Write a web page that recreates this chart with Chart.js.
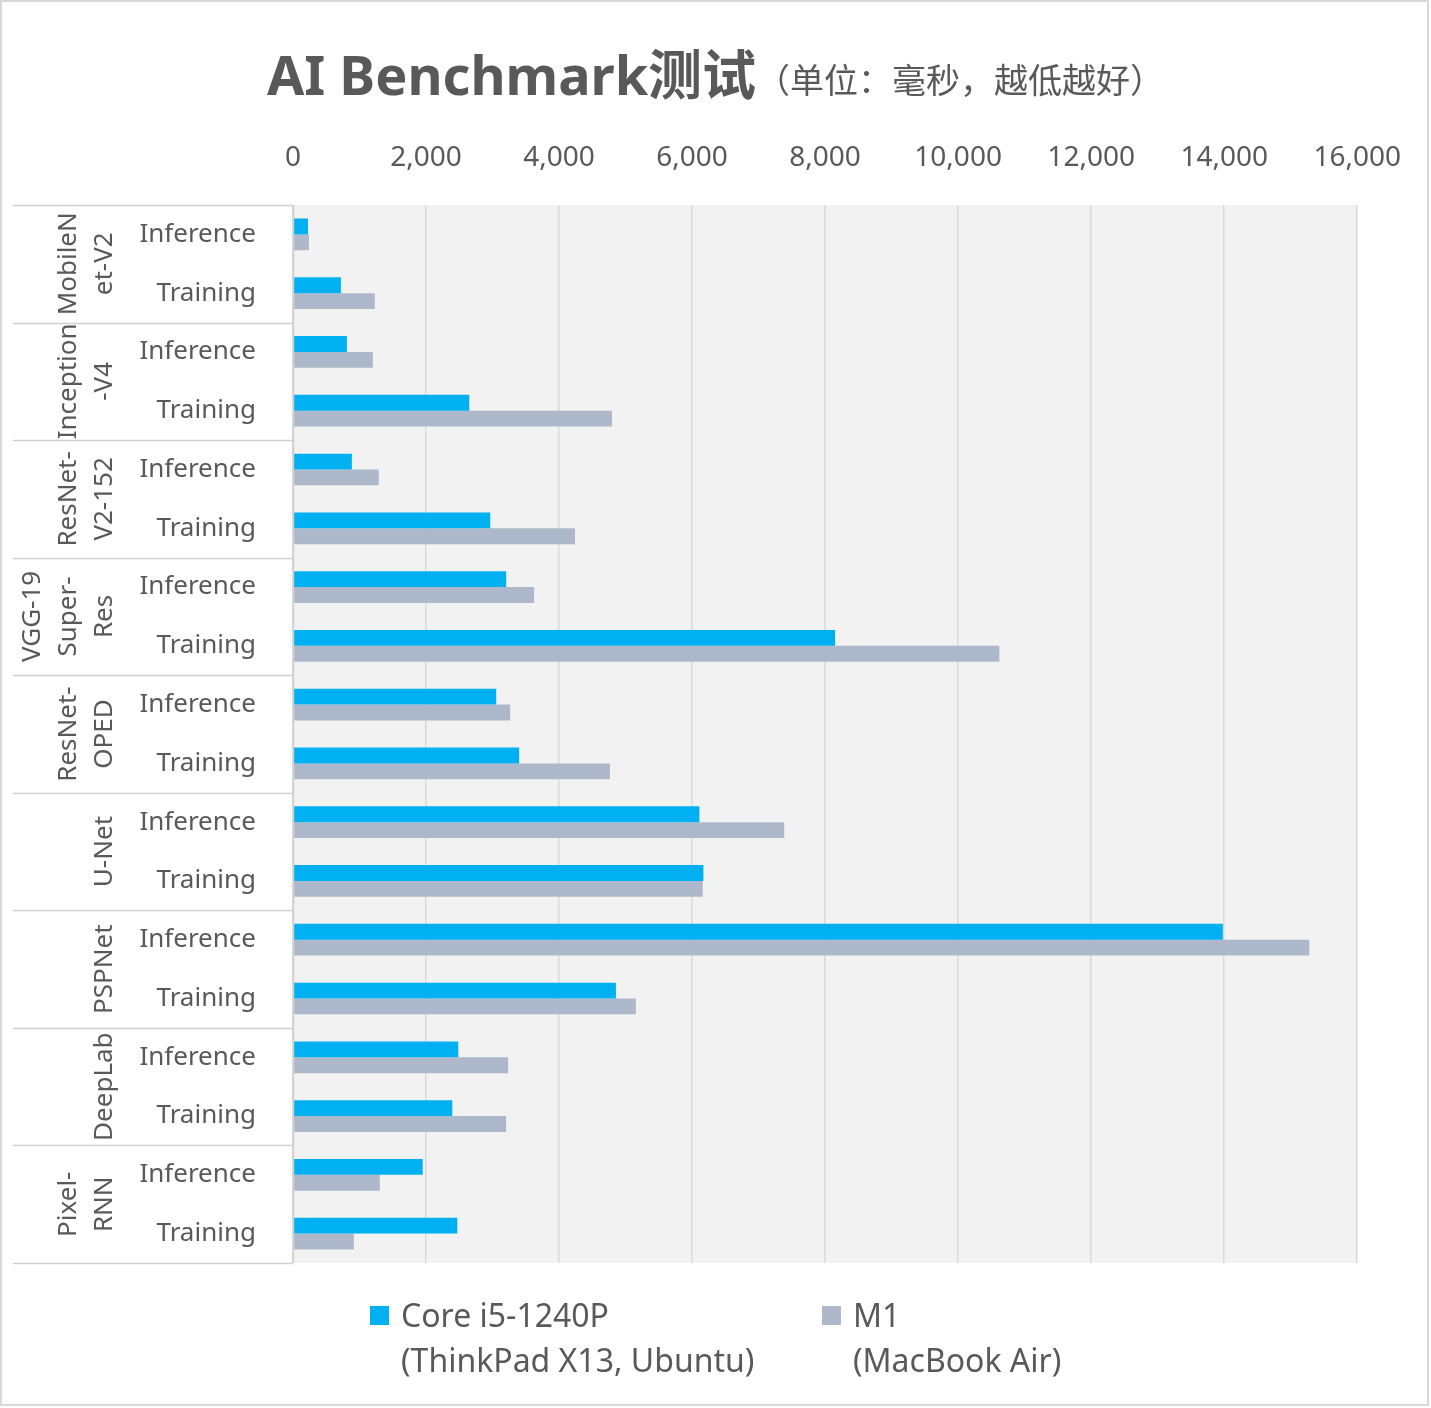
<!DOCTYPE html>
<html>
<head>
<meta charset="utf-8">
<script src="https://cdn.jsdelivr.net/npm/chart.js@4"></script>
<style>
  html, body { margin: 0; padding: 0; background: #fff; }
  #wrap { width: 1431px; height: 1408px; }
</style>
</head>
<body>
<div id="wrap"><canvas id="benchChart" width="1431" height="1408"></canvas></div>
<script>
var groups = [['MobileN', 'et-V2'], ['Inception', '-V4'], ['ResNet-', 'V2-152'], ['VGG-19', 'Super-', 'Res'],
    ['ResNet-', 'OPED'], ['U-Net'], ['PSPNet'], ['DeepLab'], ['Pixel-', 'RNN']];
var rowLabels = [];
groups.forEach(function () { rowLabels.push('Inference', 'Training'); });
var intelData = [225, 720, 810, 2650, 885, 2965, 3205, 8150, 3055, 3400, 6110, 6170, 13980, 4855, 2485, 2395, 1950, 2470];
var m1Data = [240, 1230, 1200, 4795, 1290, 4240, 3625, 10620, 3265, 4765, 7385, 6160, 15280, 5155, 3235, 3205, 1305, 915];
var xTicks = [0, 2000, 4000, 6000, 8000, 10000, 12000, 14000, 16000];

var FONT = '"Noto Sans", "Noto Sans CJK SC", sans-serif';
var TXT = '#595959';

var decor = {
    id: 'decor',
    beforeDraw: function (chart) {
        var c = chart.ctx, a = chart.chartArea;
        c.save();
        c.fillStyle = '#fff';
        c.fillRect(0, 0, chart.width, chart.height);
        c.strokeStyle = '#d9d9d9';
        c.lineWidth = 2;
        c.strokeRect(1, 1, chart.width - 4, chart.height - 4);
        c.fillStyle = '#f2f2f2';
        c.fillRect(a.left, a.top, a.right - a.left, a.bottom - a.top);
        c.restore();
    },
    afterDraw: function (chart) {
        var c = chart.ctx, a = chart.chartArea;
        var rowH = (a.bottom - a.top) / rowLabels.length;
        c.save();
        // table lines of the category area
        c.strokeStyle = '#d0d0d0';
        c.lineWidth = 1.5;
        for (var g = 0; g <= groups.length; g++) {
            var y = Math.round(a.top + g * rowH * 2) + 0.5;
            c.beginPath(); c.moveTo(13, y); c.lineTo(a.left, y); c.stroke();
        }
        c.beginPath(); c.moveTo(a.left + 0.5, a.top); c.lineTo(a.left + 0.5, a.bottom); c.stroke();
        // group labels, rotated
        c.fillStyle = TXT;
        c.font = '26px ' + FONT;
        c.textAlign = 'center';
        c.textBaseline = 'middle';
        groups.forEach(function (lines, gi) {
            var cy = a.top + (gi + 0.5) * rowH * 2;
            lines.forEach(function (t, li) {
                var cx = 105 - (lines.length - 1 - li) * 36;
                c.save();
                c.translate(cx, cy);
                c.rotate(-Math.PI / 2);
                c.fillText(t, 0, 0);
                c.restore();
            });
        });
        // title
        c.textAlign = 'left';
        c.textBaseline = 'alphabetic';
        c.fillStyle = TXT;
        c.font = 'bold 54px ' + FONT;
        var t1 = 'AI Benchmark测试';
        c.font = '34px ' + FONT;
        var t2 = '（单位：毫秒，越低越好）';
        var w2 = c.measureText(t2).width;
        c.font = 'bold 54px ' + FONT;
        var w1 = c.measureText(t1).width;
        var x0 = (chart.width - w1 - w2) / 2;
        c.fillText(t1, x0, 95);
        c.font = '34px ' + FONT;
        c.fillText(t2, x0 + w1, 93);
        // legend
        var items = [
            { color: '#00b0f0', x: 370, lines: ['Core i5-1240P', '(ThinkPad X13, Ubuntu)'] },
            { color: '#adb9ca', x: 822, lines: ['M1', '(MacBook Air)'] }
        ];
        c.font = '32px ' + FONT;
        items.forEach(function (it) {
            c.fillStyle = it.color;
            c.fillRect(it.x, 1306, 19, 19);
            c.fillStyle = TXT;
            c.fillText(it.lines[0], it.x + 31, 1327);
            c.fillText(it.lines[1], it.x + 31, 1372);
        });
        c.restore();
    }
};

new Chart(document.getElementById('benchChart').getContext('2d'), {
    type: 'bar',
    data: {
        labels: rowLabels,
        datasets: [
            { label: 'Core i5-1240P (ThinkPad X13, Ubuntu)', data: intelData, backgroundColor: '#00b0f0' },
            { label: 'M1 (MacBook Air)', data: m1Data, backgroundColor: '#adb9ca' }
        ]
    },
    options: {
        indexAxis: 'y',
        responsive: false,
        animation: false,
        devicePixelRatio: 1,
        datasets: { bar: { categoryPercentage: 0.54, barPercentage: 1 } },
        layout: { padding: { left: 12, top: 130, right: 70, bottom: 145 } },
        plugins: { legend: { display: false }, tooltip: { enabled: false } },
        scales: {
            x: {
                position: 'top',
                min: 0, max: 16000,
                afterBuildTicks: function (s) { s.ticks = xTicks.map(function (v) { return { value: v }; }); },
                afterFit: function (s) { s.height = 75; },
                grid: { color: '#d9d9d9', drawTicks: false, lineWidth: 1.5 },
                border: { display: false },
                ticks: { color: TXT, padding: 30, font: { size: 28, family: FONT } }
            },
            y: {
                afterFit: function (s) { s.width = 281; },
                grid: { display: false },
                border: { display: false },
                ticks: { color: TXT, padding: 29, font: { size: 26, family: FONT } }
            }
        }
    },
    plugins: [decor]
});
</script>
</body>
</html>
